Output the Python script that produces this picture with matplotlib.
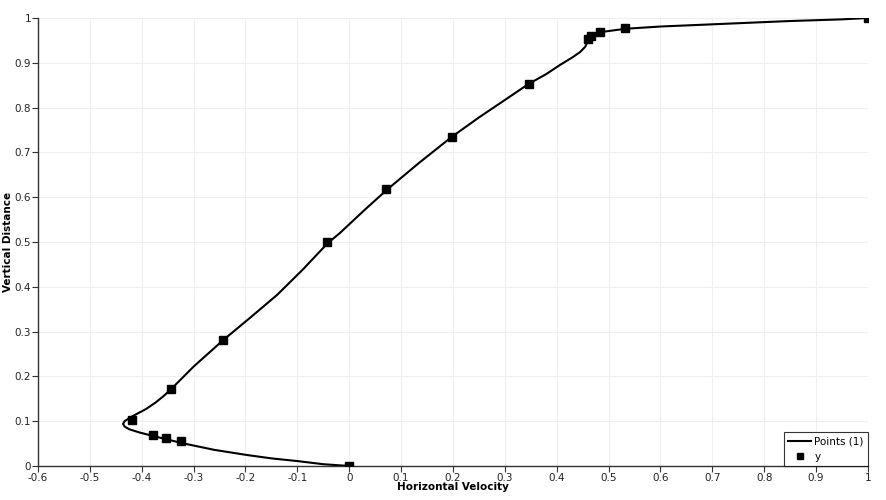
import matplotlib
matplotlib.use("Agg")
import matplotlib.pyplot as plt

# Simulation profile (line "Points (1)")
line_u = [0.0, -0.05, -0.10, -0.15, -0.197, -0.26, -0.322, -0.378, -0.405, -0.424,
          -0.433, -0.436, -0.433, -0.424, -0.410, -0.392, -0.373, -0.358, -0.343,
          -0.30, -0.243, -0.19, -0.139, -0.09, -0.041, -0.018, 0.005, 0.030, 0.073,
          0.135, 0.198, 0.25, 0.30, 0.346, 0.38, 0.406, 0.43, 0.445, 0.455, 0.460,
          0.466, 0.481, 0.533, 0.60, 0.682, 0.844, 0.95, 1.0]
line_y = [0.0, 0.004, 0.011, 0.017, 0.0245, 0.036, 0.051, 0.067, 0.075, 0.082,
          0.088, 0.094, 0.100, 0.107, 0.116, 0.127, 0.142, 0.156, 0.172,
          0.222, 0.281, 0.332, 0.382, 0.438, 0.498, 0.520, 0.545, 0.572, 0.617,
          0.677, 0.735, 0.778, 0.817, 0.853, 0.875, 0.895, 0.912, 0.924, 0.936, 0.948,
          0.958, 0.968, 0.976, 0.981, 0.985, 0.993, 0.997, 1.0]

# Reference points (series "y")
ref_u = [1.0, 0.53236, 0.48296, 0.46547, 0.46101, 0.34682, 0.19791, 0.07156, -0.04272,
         -0.24427, -0.34323, -0.41933, -0.37827, -0.35344, -0.32407, 0.0]
ref_y = [1.0, 0.9766, 0.9688, 0.9609, 0.9531, 0.8516, 0.7344, 0.6172, 0.5,
         0.2813, 0.1719, 0.1016, 0.0703, 0.0625, 0.0547, 0.0]

xticks = [-0.6, -0.5, -0.4, -0.3, -0.2, -0.1, 0, 0.1, 0.2, 0.3, 0.4, 0.5, 0.6, 0.7, 0.8, 0.9, 1]
yticks = [0, 0.1, 0.2, 0.3, 0.4, 0.5, 0.6, 0.7, 0.8, 0.9, 1]


def fmt(v):
    return f"{v:g}"


plt.rcParams['font.family'] = ['DejaVu Sans']
fig = plt.figure(figsize=(8.87, 5.0), dpi=100)
ax = fig.add_axes([38/887, 34/500, 830/887, 448/500])

ax.plot(line_u, line_y, color='black', lw=1.5, label='Points (1)', zorder=3,
        solid_joinstyle='round')
ax.plot(ref_u, ref_y, ls='none', marker='s', ms=6, color='black', label='y',
        zorder=4, clip_on=True)

ax.set_xlim(-0.6, 1)
ax.set_ylim(0, 1)
ax.set_xticks(xticks)
ax.set_xticklabels([fmt(v) for v in xticks])
ax.set_yticks(yticks)
ax.set_yticklabels([fmt(v) for v in yticks])
ax.grid(True, color='#efefef', lw=0.8)
ax.set_axisbelow(True)
for s in ['top', 'right']:
    ax.spines[s].set_visible(False)
for s in ['left', 'bottom']:
    ax.spines[s].set_color('#333333')
    ax.spines[s].set_linewidth(1.0)
ax.tick_params(axis='both', labelsize=7.5, length=4, width=0.8, color='#333333',
               labelcolor='#222222', pad=1)

ax.set_xlabel('Horizontal Velocity', fontsize=7.5, fontweight='bold', labelpad=-1)
fig.text(8/887, 1 - 242/500, 'Vertical Distance', fontsize=7.5, fontweight='bold',
         rotation=90, ha='center', va='center')

leg = ax.legend(loc='lower right', fontsize=7.5, frameon=True, fancybox=False,
                borderaxespad=0, handlelength=2.2, handletextpad=0.3,
                borderpad=0.4, labelspacing=0.5, markerscale=0.8)
leg.get_frame().set_edgecolor('black')
leg.get_frame().set_linewidth(0.8)

fig.savefig('out.png', dpi=100)
